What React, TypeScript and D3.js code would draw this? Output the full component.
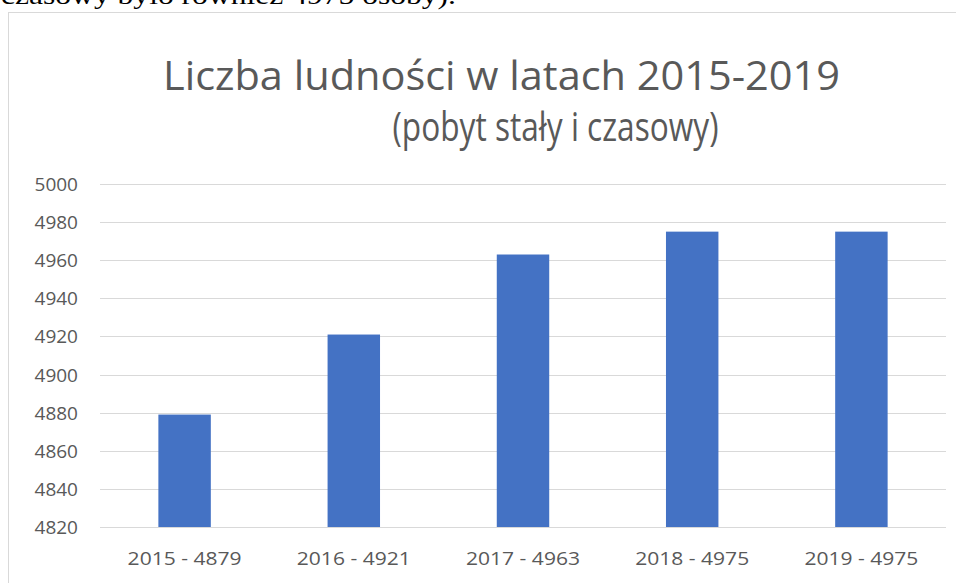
import React, { useEffect, useRef } from 'react';
import * as d3 from 'd3';

// dane
const years = ['2015', '2016', '2017', '2018', '2019'];
const population = [4879, 4921, 4963, 4975, 4975];
const yTicks = [4820, 4840, 4860, 4880, 4900, 4920, 4940, 4960, 4980, 5000];
const titleLines = ['Liczba ludności w latach 2015-2019', '(pobyt stały i czasowy)'];
const cutText = 'czasowy było również 4975 osoby).';

const W = 956;
const H = 583;

const App = () => {
    const ref = useRef<SVGSVGElement>(null);

    useEffect(() => {
        const svg = d3.select(ref.current);
        svg.selectAll('*').remove();

        const labels = years.map((y, i) => `${y} - ${population[i]}`);

        const x = d3.scaleBand<string>()
            .domain(labels)
            .range([100, 946])
            .paddingInner(0.69)
            .paddingOuter(0.345);

        const y = d3.scaleLinear()
            .domain([4820, 5000])
            .range([527, 184]);

        // ucięty tekst dokumentu nad wykresem
        svg.append('text')
            .attr('x', 1)
            .attr('y', 4)
            .attr('font-family', '"Liberation Serif", serif')
            .attr('font-size', 26)
            .attr('fill', '#000')
            .attr('textLength', 455)
            .attr('lengthAdjust', 'spacingAndGlyphs')
            .text(cutText);

        // ramka obszaru wykresu
        svg.append('rect')
            .attr('x', 8.5)
            .attr('y', 12.5)
            .attr('width', W + 20)
            .attr('height', H + 20)
            .attr('fill', '#fff')
            .attr('stroke', '#d9d9d9');

        // tytuł
        svg.append('g')
            .selectAll('text')
            .data(titleLines)
            .join('text')
            .attr('x', (d, i) => (i === 0 ? 501.5 : 555.5))
            .attr('y', (d, i) => 90 + i * 51)
            .attr('text-anchor', 'middle')
            .attr('font-family', '"Open Sans", sans-serif')
            .attr('font-size', 41)
            .attr('fill', '#595959')
            .attr('textLength', (d, i) => (i === 0 ? 677 : 326))
            .attr('lengthAdjust', 'spacingAndGlyphs')
            .text(d => d);

        // linie siatki
        svg.append('g')
            .selectAll('line')
            .data(yTicks)
            .join('line')
            .attr('x1', 100)
            .attr('x2', 946)
            .attr('y1', d => Math.round(y(d)) + 0.5)
            .attr('y2', d => Math.round(y(d)) + 0.5)
            .attr('stroke', '#d9d9d9')
            .attr('stroke-width', 1);

        // etykiety osi Y
        svg.append('g')
            .selectAll('text')
            .data(yTicks)
            .join('text')
            .attr('x', 78)
            .attr('y', d => y(d) + 7)
            .attr('text-anchor', 'end')
            .attr('font-family', '"Open Sans", sans-serif')
            .attr('font-size', 19)
            .attr('fill', '#595959')
            .text(d => d);

        // słupki
        svg.append('g')
            .selectAll('rect')
            .data(population)
            .join('rect')
            .attr('x', (d, i) => x(labels[i])!)
            .attr('y', d => y(d))
            .attr('width', x.bandwidth())
            .attr('height', d => y(4820) - y(d))
            .attr('fill', '#4472c4');

        // etykiety osi X
        svg.append('g')
            .selectAll('text')
            .data(labels)
            .join('text')
            .attr('x', d => x(d)! + x.bandwidth() / 2)
            .attr('y', 565)
            .attr('text-anchor', 'middle')
            .attr('font-family', '"Open Sans", sans-serif')
            .attr('font-size', 19)
            .attr('fill', '#595959')
            .attr('textLength', 114)
            .attr('lengthAdjust', 'spacingAndGlyphs')
            .text(d => d);
    }, []);

    return (
        <svg
            ref={ref}
            width={W}
            height={H}
            style={{ position: 'absolute', left: 0, top: 0, background: '#fff' }}
        />
    );
};

export default App;
